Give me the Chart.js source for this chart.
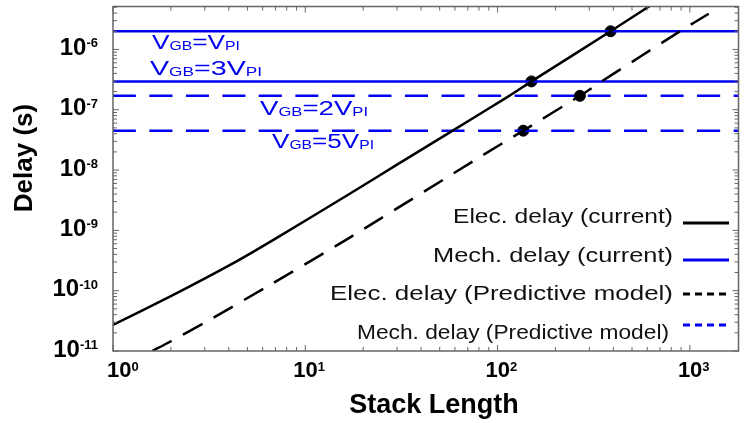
<!DOCTYPE html>
<html lang="en">
<head>
<meta charset="UTF-8">
<title>Delay vs Stack Length</title>
<script src="https://cdn.jsdelivr.net/npm/chart.js"></script>
<style>
  html, body { margin: 0; padding: 0; background: #fff; }
  .chart-box { position: relative; width: 745px; height: 423px; }
</style>
</head>
<body>
<div class="chart-box"><canvas id="delayChart"></canvas></div>
<script>
// electrical delay, measured model (solid black)
const elecCurrentX = [1, 2, 4.2, 7, 16.7, 30, 59, 115, 150, 387, 700];
const elecCurrentY = [2.7e-11, 8.1e-11, 2.83e-10, 7.3e-10, 3.9e-9, 1.23e-8, 4.6e-8, 1.7e-7, 2.95e-7, 2.0e-6, 6.8e-6];
// electrical delay, predictive model (dashed black)
const elecPredX = [1.6, 1.89, 3.16, 6.7, 16.7, 81, 136, 268, 348, 888, 1253];
const elecPredY = [1.0e-11, 1.32e-11, 3.24e-11, 1.3e-10, 7.3e-10, 1.65e-8, 4.5e-8, 1.7e-7, 2.95e-7, 2.0e-6, 3.9e-6];
// mechanical delay levels (horizontal lines)
const mechCurrentLevels = [2.0e-6, 2.95e-7];  // VGB = VPI, 3VPI
const mechPredLevels = [1.7e-7, 4.5e-8];      // VGB = 2VPI, 5VPI
// crossing points marked with dots
const crossX = [387, 150, 268, 136];
const crossY = [2.0e-6, 2.95e-7, 1.7e-7, 4.5e-8];

const xRange = [1, 1790];
const yRange = [1e-11, 5.15e-6];
const xDecades = [0, 1, 2, 3];
const yDecades = [-11, -10, -9, -8, -7, -6];

const BLUE = '#0000ee';
const SANS = '"Liberation Sans", Arial, sans-serif';

function pts(xs, ys) {
  return xs.map((x, i) => ({ x: x, y: ys[i] }));
}
function hline(level) {
  return [{ x: xRange[0], y: level }, { x: xRange[1], y: level }];
}

const datasets = [
  { data: pts(elecCurrentX, elecCurrentY), borderColor: '#000', borderWidth: 2.5 },
  { data: pts(elecPredX, elecPredY), borderColor: '#000', borderWidth: 2.5, borderDash: [22, 13] }
];
mechCurrentLevels.forEach(l => datasets.push({ data: hline(l), borderColor: BLUE, borderWidth: 2.5 }));
mechPredLevels.forEach(l => datasets.push({ data: hline(l), borderColor: BLUE, borderWidth: 2.5, borderDash: [23, 13.5] }));
datasets.forEach(d => { d.showLine = true; d.pointRadius = 0; d.tension = 0.2; d.fill = false; });
datasets.push({ data: pts(crossX, crossY), showLine: false, pointRadius: 5.5, backgroundColor: '#000', borderColor: '#000' });

// draw text squeezed/stretched into a given width
function fitText(ctx, parts, left, baseline, width) {
  let natural = 0;
  parts.forEach(p => { ctx.font = p.font; natural += ctx.measureText(p.t).width; });
  ctx.save();
  ctx.translate(left, baseline);
  ctx.scale(width / natural, 1);
  let x = 0;
  parts.forEach(p => {
    ctx.font = p.font;
    ctx.fillText(p.t, x, p.dy || 0);
    x += ctx.measureText(p.t).width;
  });
  ctx.restore();
}

function vLabel(n) {
  const main = '20px ' + SANS, sub = '12px ' + SANS;
  return [
    { t: 'V', font: main }, { t: 'GB', font: sub, dy: 1 },
    { t: '=' + n + 'V', font: main }, { t: 'PI', font: sub, dy: 1 }
  ];
}

const decor = {
  id: 'decor',
  afterDatasetsDraw(chart) {
    const ctx = chart.ctx;
    const a = chart.chartArea;
    const xs = chart.scales.x, ys = chart.scales.y;
    ctx.save();
    ctx.textAlign = 'left';
    ctx.textBaseline = 'alphabetic';

    // frame
    ctx.strokeStyle = '#666';
    ctx.lineWidth = 1.5;
    ctx.strokeRect(a.left, a.top, a.right - a.left, a.bottom - a.top);

    // inward tick marks
    ctx.lineWidth = 1;
    ctx.beginPath();
    xDecades.forEach(d => {
      for (let m = 1; m <= 9; m++) {
        const v = m * Math.pow(10, d);
        if (v < xRange[0] || v > xRange[1]) continue;
        const px = xs.getPixelForValue(v), len = m === 1 ? 6 : 4;
        ctx.moveTo(px, a.bottom); ctx.lineTo(px, a.bottom - len);
        ctx.moveTo(px, a.top); ctx.lineTo(px, a.top + len);
      }
    });
    yDecades.forEach(d => {
      for (let m = 1; m <= 9; m++) {
        const v = m * Math.pow(10, d);
        if (v < yRange[0] || v > yRange[1]) continue;
        const py = ys.getPixelForValue(v), len = m === 1 ? 6 : 4;
        ctx.moveTo(a.left, py); ctx.lineTo(a.left + len, py);
        ctx.moveTo(a.right, py); ctx.lineTo(a.right - len, py);
      }
    });
    ctx.stroke();

    // tick labels with superscripts
    ctx.fillStyle = '#000';
    yDecades.forEach(d => {
      const py = ys.getPixelForValue(Math.pow(10, d));
      ctx.font = 'bold 13px ' + SANS;
      const we = ctx.measureText(String(d)).width;
      ctx.fillText(String(d), 98 - we, py - 2);
      ctx.font = 'bold 24px ' + SANS;
      const wb = ctx.measureText('10').width;
      ctx.fillText('10', 98 - we - wb, py + 5.5);
    });
    xDecades.forEach(d => {
      const px = xs.getPixelForValue(Math.pow(10, d));
      ctx.font = 'bold 22px ' + SANS;
      const wb = ctx.measureText('10').width;
      const start = d === 0 ? px - 6 : px - 12;
      ctx.fillText('10', start, 377);
      ctx.font = 'bold 13px ' + SANS;
      ctx.fillText(String(d), start + wb, 371);
    });

    // axis titles
    ctx.font = 'bold 27px ' + SANS;
    ctx.textAlign = 'center';
    ctx.fillText('Stack Length', 434, 413);
    ctx.save();
    ctx.translate(32, 158);
    ctx.rotate(-Math.PI / 2);
    ctx.font = 'bold 26px ' + SANS;
    ctx.fillText('Delay (s)', 0, 0);
    ctx.restore();
    ctx.textAlign = 'left';

    // VGB annotations
    ctx.fillStyle = BLUE;
    fitText(ctx, vLabel(''), 152, 49, 88);
    fitText(ctx, vLabel('3'), 150, 75, 112);
    fitText(ctx, vLabel('2'), 260, 115, 108);
    fitText(ctx, vLabel('5'), 272, 148, 102);

    // legend
    const rows = [
      { text: 'Elec. delay (current)', left: 453, right: 673, base: 223, lineY: 223, color: '#000', dash: [] },
      { text: 'Mech. delay (current)', left: 433, right: 673, base: 262, lineY: 260, color: BLUE, dash: [] },
      { text: 'Elec. delay (Predictive model)', left: 330, right: 673, base: 300, lineY: 294, color: '#000', dash: [7, 5] },
      { text: 'Mech. delay (Predictive model)', left: 357, right: 669, base: 339, lineY: 325, color: BLUE, dash: [7, 5] }
    ];
    rows.forEach(r => {
      ctx.fillStyle = '#111';
      fitText(ctx, [{ t: r.text, font: '21px ' + SANS }], r.left, r.base, r.right - r.left);
      ctx.strokeStyle = r.color;
      ctx.lineWidth = 3;
      ctx.setLineDash(r.dash);
      ctx.beginPath();
      ctx.moveTo(683, r.lineY); ctx.lineTo(729, r.lineY);
      ctx.stroke();
      ctx.setLineDash([]);
    });
    ctx.restore();
  }
};

new Chart(document.getElementById('delayChart'), {
  type: 'scatter',
  data: { datasets: datasets },
  options: {
    responsive: true,
    maintainAspectRatio: false,
    animation: false,
    layout: { padding: { left: 113, right: 1, top: 6, bottom: 72 } },
    scales: {
      x: { type: 'logarithmic', display: false, min: xRange[0], max: xRange[1] },
      y: { type: 'logarithmic', display: false, min: yRange[0], max: yRange[1] }
    },
    plugins: {
      legend: { display: false },
      tooltip: { enabled: false }
    }
  },
  plugins: [decor]
});
</script>
</body>
</html>
